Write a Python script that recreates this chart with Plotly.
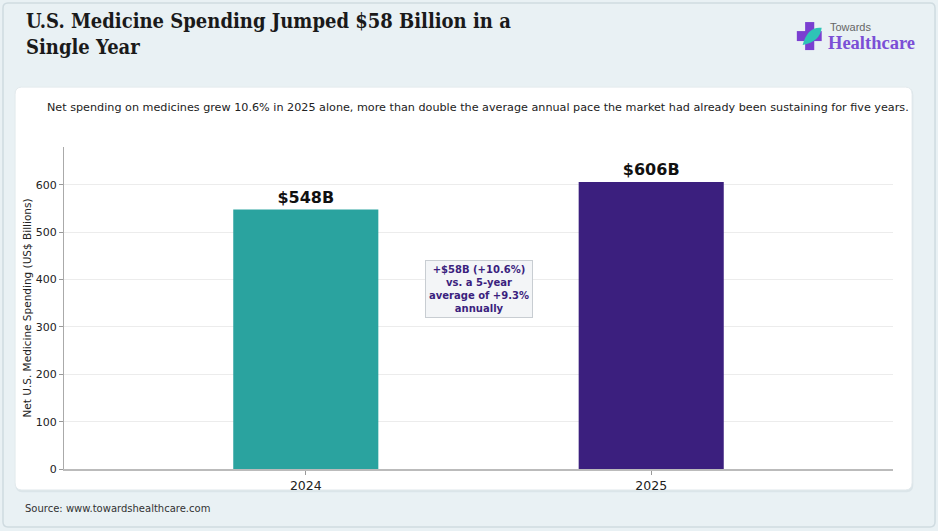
import plotly.graph_objects as go

# chart data
years = ["2024", "2025"]
spending = [548, 606]
bar_labels = ["$548B", "$606B"]
bar_colors = ["#2aa39f", "#3b1f7e"]
y_ticks = [0, 100, 200, 300, 400, 500, 600]


def rounded_rect(x0, x1, y0, y1, rx, ry):
    # svg path for a rounded rectangle in paper coordinates
    return (f"M {x0 + rx} {y0} L {x1 - rx} {y0} Q {x1} {y0} {x1} {y0 + ry} "
            f"L {x1} {y1 - ry} Q {x1} {y1} {x1 - rx} {y1} "
            f"L {x0 + rx} {y1} Q {x0} {y1} {x0} {y1 - ry} "
            f"L {x0} {y0 + ry} Q {x0} {y0} {x0 + rx} {y0} Z")


fig = go.Figure()
fig.add_trace(go.Bar(
    x=years,
    y=spending,
    width=0.42,
    marker=dict(color=bar_colors, line=dict(width=0)),
    text=["<b>" + t + "</b>" for t in bar_labels],
    textposition="outside",
    textfont=dict(family="DejaVu Sans", size=16, color="#111111"),
    cliponaxis=False,
    hoverinfo="skip",
))

fig.update_layout(
    width=938,
    height=531,
    margin=dict(l=64, r=45, t=147, b=62),
    paper_bgcolor="#e9f1f4",
    plot_bgcolor="white",
    showlegend=False,
    font=dict(family="DejaVu Sans", color="#222222"),
)

fig.update_xaxes(
    type="category",
    range=[-0.7, 1.7],
    showline=True, linecolor="#bbbbbb", linewidth=1.5,
    ticks="outside", ticklen=4, tickcolor="#999999",
    tickfont=dict(size=12.5, color="#222222"),
    showgrid=False,
)
fig.update_yaxes(
    range=[0, 680],
    tickvals=y_ticks,
    showline=True, linecolor="#aaaaaa", linewidth=1,
    ticks="outside", ticklen=4, tickcolor="#999999",
    tickfont=dict(size=11, color="#222222"),
    gridcolor="#ececec",
    zeroline=False,
    title=dict(text="Net U.S. Medicine Spending (US$ Billions)",
               font=dict(size=10.5, color="#222222"), standoff=2),
)

# background card (soft shadow + white) and outer frame
fig.add_shape(type="path", xref="paper", yref="paper",
              path=rounded_rect(-0.0585, 1.0245, -0.072, 1.183, 0.008, 0.022),
              fillcolor="#dbe5e9", line=dict(width=0), layer="below")
fig.add_shape(type="path", xref="paper", yref="paper",
              path=rounded_rect(-0.059, 1.023, -0.065, 1.186, 0.008, 0.022),
              fillcolor="white", line=dict(color="#e3eaed", width=1), layer="below")
fig.add_shape(type="path", xref="paper", yref="paper",
              path=rounded_rect(-0.0736, 1.0507, -0.18, 1.447, 0.006, 0.016),
              fillcolor="rgba(0,0,0,0)",
              line=dict(color="#cfdbe0", width=1.5), layer="below")

# title, subtitle, source
fig.add_annotation(
    text="<b>U.S. Medicine Spending Jumped $58 Billion in a<br>Single Year</b>",
    xref="paper", yref="paper", x=-0.048, y=1.435,
    xanchor="left", yanchor="top", align="left", showarrow=False,
    font=dict(family="DejaVu Serif Condensed, DejaVu Serif", size=20, color="#1a1a1a"),
)
fig.add_annotation(
    text="Net spending on medicines grew 10.6% in 2025 alone, more than double the average annual pace the market had already been sustaining for five years.",
    xref="paper", yref="paper", x=-0.0229, y=1.124,
    xanchor="left", yanchor="middle", showarrow=False,
    font=dict(size=11.2, color="#222222"),
)
fig.add_annotation(
    text="Source: www.towardshealthcare.com",
    xref="paper", yref="paper", x=-0.0495, y=-0.124,
    xanchor="left", yanchor="middle", showarrow=False,
    font=dict(size=10, color="#333333"),
)

# callout box between the bars
fig.add_annotation(
    text="<b>+$58B (+10.6%)<br>vs. a 5-year<br>average of +9.3%<br>annually</b>",
    x=0.5, y=380, xref="x", yref="y", showarrow=False,
    font=dict(size=10, color="#3b1f7e"),
    bgcolor="#f3f5f7", bordercolor="#c8cdd2", borderwidth=1, borderpad=3,
)

# logo: cross mark and wordmark
fig.add_shape(type="rect", xref="paper", yref="paper",
              x0=0.894, x1=0.905, y0=1.301, y1=1.388,
              fillcolor="#7a3fd1", line=dict(width=0))
fig.add_shape(type="rect", xref="paper", yref="paper",
              x0=0.884, x1=0.914, y0=1.329, y1=1.360,
              fillcolor="#7a3fd1", line=dict(width=0))
fig.add_shape(type="path", xref="paper", yref="paper",
              path="M 0.891 1.317 Q 0.897 1.375 0.914 1.370 Q 0.912 1.326 0.891 1.317 Z",
              fillcolor="#2ec4b6", line=dict(width=0))
fig.add_annotation(
    text="Towards", xref="paper", yref="paper", x=0.9216, y=1.373,
    xanchor="left", yanchor="middle", showarrow=False,
    font=dict(family="Liberation Sans Narrow, Liberation Sans", size=11, color="#666666"),
)
fig.add_annotation(
    text="<b>Healthcare</b>", xref="paper", yref="paper", x=0.919, y=1.322,
    xanchor="left", yanchor="middle", showarrow=False,
    font=dict(family="Liberation Serif", size=18.5, color="#7b4fd6"),
)

fig.write_html("out.html", config={"displayModeBar": False},
               post_script="document.body.style.margin='0';")
